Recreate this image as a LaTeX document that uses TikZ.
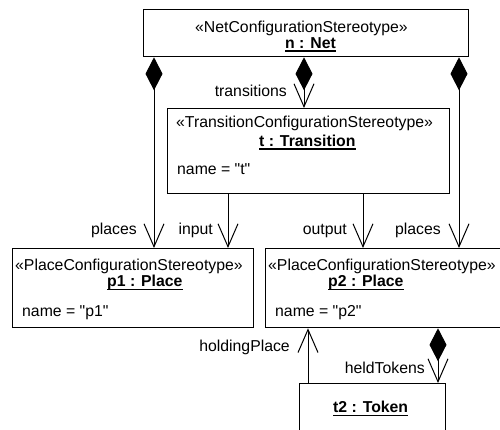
\documentclass[tikz,border=0pt]{standalone}
\usepackage{fontspec}
\setmainfont{Liberation Sans}
\usetikzlibrary{arrows.meta}
\begin{document}
\begin{tikzpicture}[x=1pt,y=-1pt,
  box/.style={draw, line width=1.3pt, inner sep=0pt, anchor=north west},
  txt/.style={inner sep=0pt, anchor=base west, font=\fontsize{15.8}{19}\selectfont},
  btxt/.style={inner sep=0pt, anchor=base west, font=\fontsize{15.8}{19}\selectfont\bfseries},
  lbl/.style={inner sep=0pt, anchor=base east, font=\fontsize{15.8}{19}\selectfont},
  conn/.style={line width=1pt, -{Straight Barb[length=23pt,width=20pt,line width=1pt]}},
  comp/.style={line width=1pt, {Diamond[length=33pt,width=17pt]}-{Straight Barb[length=23pt,width=20pt,line width=1pt]}},
  uline/.style={line width=1.2pt}]
\useasboundingbox (0,0) rectangle (500,429);
\clip (0,0) rectangle (500,429);
% boxes
\node[box, minimum width=325pt, minimum height=47pt] (net) at (142.7,9) {};
\node[box, minimum width=282pt, minimum height=85pt] (trans) at (167,108) {};
\node[box, minimum width=241pt, minimum height=79pt] (p1) at (12,248) {};
\node[box, minimum width=241pt, minimum height=79pt] (p2) at (265,248) {};
\node[box, minimum width=146pt, minimum height=60pt] (tok) at (299,383) {};
% texts
\node[txt] (netS) at (195,32) {«NetConfigurationStereotype»};
\node[btxt] (netN) at (285,48) {n : Net};
\node[txt] (trS) at (176,127.5) {«TransitionConfigurationStereotype»};
\node[btxt] (trN) at (259,146) {t : Transition};
\node[txt] (trA) at (177,174) {name = \textquotedbl t\textquotedbl};
\node[txt] (p1S) at (15,270) {«PlaceConfigurationStereotype»};
\node[btxt] (p1N) at (107,286.5) {p1 : Place};
\node[txt] (p1A) at (22,316) {name = \textquotedbl p1\textquotedbl};
\node[txt] (p2S) at (268,270) {«PlaceConfigurationStereotype»};
\node[btxt] (p2N) at (328,286.5) {p2 : Place};
\node[txt] (p2A) at (275,316) {name = \textquotedbl p2\textquotedbl};
\node[btxt] (tokN) at (333,412.5) {t2 : Token};
% underlines
\foreach \n in {netN,trN,p1N,p2N,tokN}{
  \draw[uline] ([yshift=-3pt]\n.base west) -- ([yshift=-3pt]\n.base east);
}
% connector x positions
\coordinate (xa) at (154,0);
\coordinate (xb) at (304,0);
\coordinate (xc) at (459,0);
\coordinate (xd) at (228,0);
\coordinate (xe) at (363,0);
\coordinate (xf) at (308,0);
\coordinate (xg) at (438,0);
% connectors
\draw[comp] (net.south -| xa) -- (p1.north -| xa);
\draw[comp] (net.south -| xb) -- (trans.north -| xb);
\draw[comp] (net.south -| xc) -- (p2.north -| xc);
\draw[conn] (trans.south -| xd) -- (p1.north -| xd);
\draw[conn] (trans.south -| xe) -- (p2.north -| xe);
\draw[conn] (tok.north -| xf) -- (p2.south -| xf);
\draw[comp] (p2.south -| xg) -- (tok.north -| xg);
% labels
\node[lbl] (lpl1) at (137,234) {places};
\node[lbl] (ltr) at (287,96.5) {transitions};
\node[lbl] (lin) at (213,234) {input};
\node[lbl] (lout) at (347,234) {output};
\node[lbl] (lpl2) at (441,234) {places};
\node[lbl] (lhp) at (290,351) {holdingPlace};
\node[lbl] (lht) at (425,373) {heldTokens};
\end{tikzpicture}
\end{document}
